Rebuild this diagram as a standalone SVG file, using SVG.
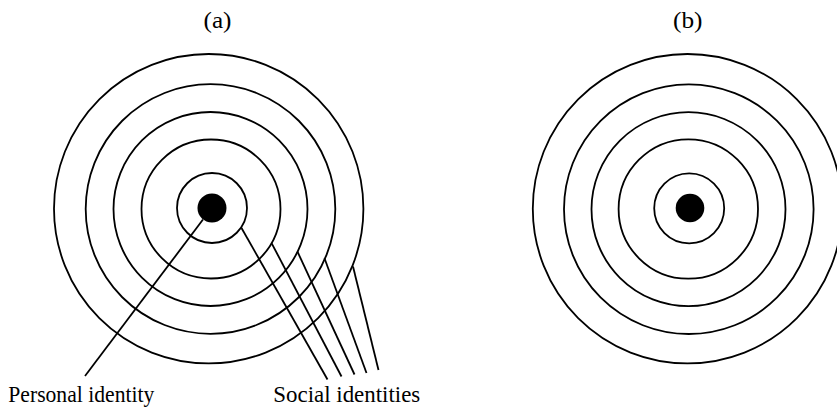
<svg xmlns="http://www.w3.org/2000/svg" width="837" height="408" viewBox="0 0 837 408">
  <style>
    .ring { fill: none; stroke: #000; stroke-width: 1.8; }
    .dot { fill: #000; stroke: none; }
    .conn { stroke: #000; stroke-width: 1.8; fill: none; }
    .lbl { font-family: "Liberation Serif", "Times New Roman", serif; font-size: 23px; fill: #000; }
    .ttl { font-family: "Liberation Serif", "Times New Roman", serif; font-size: 24px; fill: #000; }
  </style>
  <rect width="837" height="408" fill="#fff"/>

  <g id="title-a"><text class="ttl" x="203.5" y="27.5" textLength="28" lengthAdjust="spacingAndGlyphs">(a)</text></g>
  <g id="title-b"><text class="ttl" x="673" y="27.5" textLength="29.5" lengthAdjust="spacingAndGlyphs">(b)</text></g>

  <g id="diagram-a">
    <g id="a-ring5"><circle class="ring" cx="208.7" cy="208.7" r="154.7"/></g>
    <g id="a-ring4"><circle class="ring" cx="210.5" cy="209" r="124.8"/></g>
    <g id="a-ring3"><circle class="ring" cx="210.5" cy="209" r="97"/></g>
    <g id="a-ring2"><circle class="ring" cx="211" cy="209" r="69.5"/></g>
    <g id="a-ring1"><circle class="ring" cx="212" cy="208" r="35"/></g>
    <g id="a-core"><circle class="dot" cx="212" cy="208" r="14.5"/></g>
  </g>

  <g id="diagram-b">
    <g id="b-ring5"><circle class="ring" cx="687.5" cy="208.7" r="154.7"/></g>
    <g id="b-ring4"><circle class="ring" cx="688.8" cy="209.2" r="124.8"/></g>
    <g id="b-ring3"><circle class="ring" cx="688.5" cy="209.2" r="97"/></g>
    <g id="b-ring2"><circle class="ring" cx="688.3" cy="209" r="69.7"/></g>
    <g id="b-ring1"><circle class="ring" cx="689.2" cy="208.3" r="35"/></g>
    <g id="b-core"><circle class="dot" cx="690" cy="208" r="14.3"/></g>
  </g>

  <g id="connectors">
    <line class="conn" x1="203" y1="219.5" x2="85" y2="376"/>
    <line class="conn" x1="241.5" y1="228" x2="327.5" y2="379.5"/>
    <line class="conn" x1="271.7" y1="243.3" x2="341.5" y2="376.5"/>
    <line class="conn" x1="297.5" y1="251.7" x2="354.5" y2="374.5"/>
    <line class="conn" x1="324.5" y1="258.3" x2="366.5" y2="373"/>
    <line class="conn" x1="353" y1="266.5" x2="378.5" y2="370"/>
  </g>

  <g id="label-personal"><text class="lbl" x="8.3" y="402" textLength="146" lengthAdjust="spacingAndGlyphs">Personal identity</text></g>
  <g id="label-social"><text class="lbl" x="273.3" y="402" textLength="147" lengthAdjust="spacingAndGlyphs">Social identities</text></g>
</svg>
